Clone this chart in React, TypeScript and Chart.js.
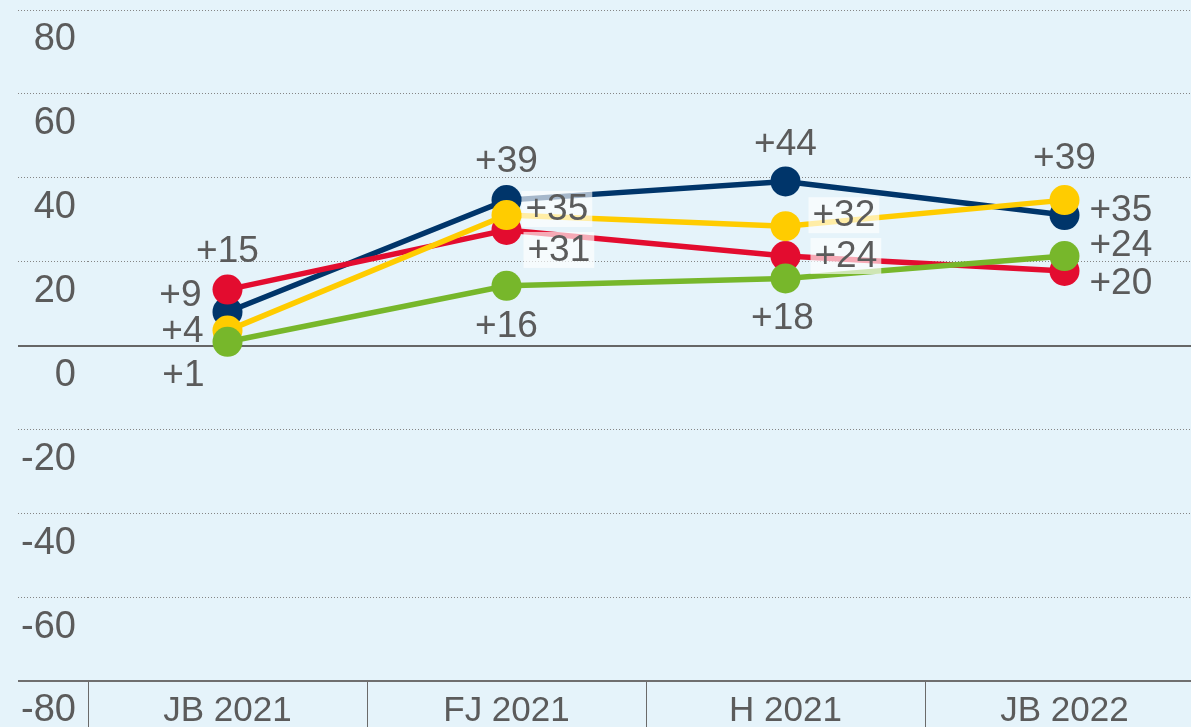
import { useEffect, useRef } from 'react';
import { Chart, registerables } from 'chart.js';

Chart.register(...registerables);

// ---- data ----
const categories = ['JB 2021', 'FJ 2021', 'H 2021', 'JB 2022'];
const seriesNavy = [9, 39, 44, 35];
const seriesRed = [15, 31, 24, 20];
const seriesYellow = [4, 35, 32, 39];
const seriesGreen = [1, 16, 18, 24];
const yTickValues = [80, 60, 40, 20, 0, -20, -40, -60, -80];

// ---- styles ----
const FONT = "'Liberation Sans', Arial, sans-serif";
const TEXT = '#5b5b5b';
const BG = '#e5f3fa';
const NAVY = '#00356a';
const RED = '#e30c2f';
const YELLOW = '#ffcc00';
const GREEN = '#77b72b';

type Place = { dx: number; dy: number; align: CanvasTextAlign; box?: boolean };
const placeNavy: Place[] = [
  { dx: -26, dy: -16, align: 'right' },
  { dx: 0, dy: -38, align: 'center' },
  { dx: 0, dy: -37, align: 'center' },
  { dx: 25, dy: -4, align: 'left' },
];
const placeRed: Place[] = [
  { dx: 0, dy: -38, align: 'center' },
  { dx: 21, dy: 21, align: 'left', box: true },
  { dx: 29, dy: 1, align: 'left', box: true },
  { dx: 25, dy: 13, align: 'left' },
];
const placeYellow: Place[] = [
  { dx: -24, dy: 1, align: 'right' },
  { dx: 19, dy: -5, align: 'left', box: true },
  { dx: 27, dy: -10, align: 'left', box: true },
  { dx: 0, dy: -41, align: 'center' },
];
const placeGreen: Place[] = [
  { dx: -23, dy: 34, align: 'right' },
  { dx: 0, dy: 41, align: 'center' },
  { dx: -3, dy: 40, align: 'center' },
  { dx: 25, dy: -10, align: 'left' },
];

const pointLabels = {
  id: 'pointLabels',
  afterDatasetsDraw(chart: any) {
    const ctx = chart.ctx as CanvasRenderingContext2D;
    ctx.save();
    ctx.font = `37px ${FONT}`;
    ctx.textBaseline = 'middle';
    chart.data.datasets.forEach((ds: any, di: number) => {
      const meta = chart.getDatasetMeta(di);
      const places: Place[] = ds.places;
      meta.data.forEach((pt: any, i: number) => {
        const p = places[i];
        const text = '+' + ds.data[i];
        const x = pt.x + p.dx;
        const y = pt.y + p.dy;
        const w = ctx.measureText(text).width;
        if (p.box) {
          let left = x;
          if (p.align === 'right') left = x - w;
          if (p.align === 'center') left = x - w / 2;
          ctx.fillStyle = 'rgba(255,255,255,0.65)';
          ctx.fillRect(left - 4, y - 19, w + 8, 36);
        }
        ctx.fillStyle = TEXT;
        ctx.textAlign = p.align;
        ctx.fillText(text, x, y);
      });
    });
    ctx.restore();
  },
};

function mkDataset(label: string, data: number[], color: string, places: Place[]) {
  return {
    label,
    data,
    places,
    borderColor: color,
    backgroundColor: color,
    borderWidth: 5.5,
    pointRadius: 15,
    pointBorderWidth: 0,
    pointBackgroundColor: color,
    pointHoverRadius: 15,
    tension: 0,
    yAxisID: 'y',
    clip: false,
  };
}

export default function App() {
  const ref = useRef<HTMLCanvasElement>(null);
  useEffect(() => {
    if (!ref.current) return;
    const tickVal = (c: any) => (c && c.tick ? c.tick.value : null);
    const solid = (c: any) => tickVal(c) === 0 || tickVal(c) === -80;
    const chart = new Chart(ref.current, {
      type: 'line',
      data: {
        labels: categories,
        datasets: [
          mkDataset('green', seriesGreen, GREEN, placeGreen),
          mkDataset('yellow', seriesYellow, YELLOW, placeYellow),
          mkDataset('red', seriesRed, RED, placeRed),
          mkDataset('navy', seriesNavy, NAVY, placeNavy),
        ] as any,
      },
      options: {
        responsive: false,
        animation: false,
        layout: { autoPadding: false, padding: { left: 18, top: 10, right: 6, bottom: 0 } },
        plugins: { legend: { display: false }, tooltip: { enabled: false } },
        scales: {
          x: {
            type: 'category',
            offset: true,
            grid: {
              drawOnChartArea: false,
              drawTicks: true,
              tickLength: 46,
              color: '#6a6a6a',
              lineWidth: 1,
              offset: true,
            },
            border: { display: true, color: '#6f6f6f', width: 2 },
            ticks: {
              color: TEXT,
              font: { family: FONT, size: 35 },
              padding: -37,
              maxRotation: 0,
              autoSkip: false,
            },
            afterFit: (s: any) => {
              s.height = 46;
              s.paddingLeft = 0;
              s.paddingRight = 0;
            },
          },
          y: { display: false, min: -90, max: 90 },
          y2: {
            position: 'left',
            min: -80,
            max: 80,
            afterBuildTicks: (s: any) => {
              s.ticks = yTickValues.map((v) => ({ value: v }));
            },
            afterFit: (s: any) => {
              s.width = 70;
              s.paddingTop = 0;
              s.paddingBottom = 0;
            },
            ticks: {
              color: TEXT,
              font: { family: FONT, size: 38 },
              labelOffset: 30,
              padding: -58,
              callback: (v: any) => String(v),
            },
            grid: {
              drawTicks: true,
              tickLength: 70,
              color: (c: any) => (tickVal(c) === 0 ? '#666666' : tickVal(c) === -80 ? '#6f6f6f' : '#858585'),
              lineWidth: (c: any) => (solid(c) ? 2 : 1),
              tickColor: (c: any) => (tickVal(c) === 0 ? '#666666' : tickVal(c) === -80 ? '#6f6f6f' : '#858585'),
              tickWidth: (c: any) => (solid(c) ? 2 : 1),
              tickBorderDash: (c: any) => (solid(c) ? [] : [1, 2]),
            } as any,
            border: {
              display: false,
              dash: (c: any) => (solid(c) ? [] : [1, 2]),
            } as any,
          },
        },
      } as any,
      plugins: [pointLabels],
    });
    return () => chart.destroy();
  }, []);

  return (
    <div
      style={{
        position: 'absolute',
        left: 0,
        top: 0,
        width: 1191,
        height: 727,
        overflow: 'hidden',
        background: BG,
      }}
    >
      <canvas ref={ref} width={1210} height={727} style={{ width: 1210, height: 727, display: 'block' }} />
    </div>
  );
}
